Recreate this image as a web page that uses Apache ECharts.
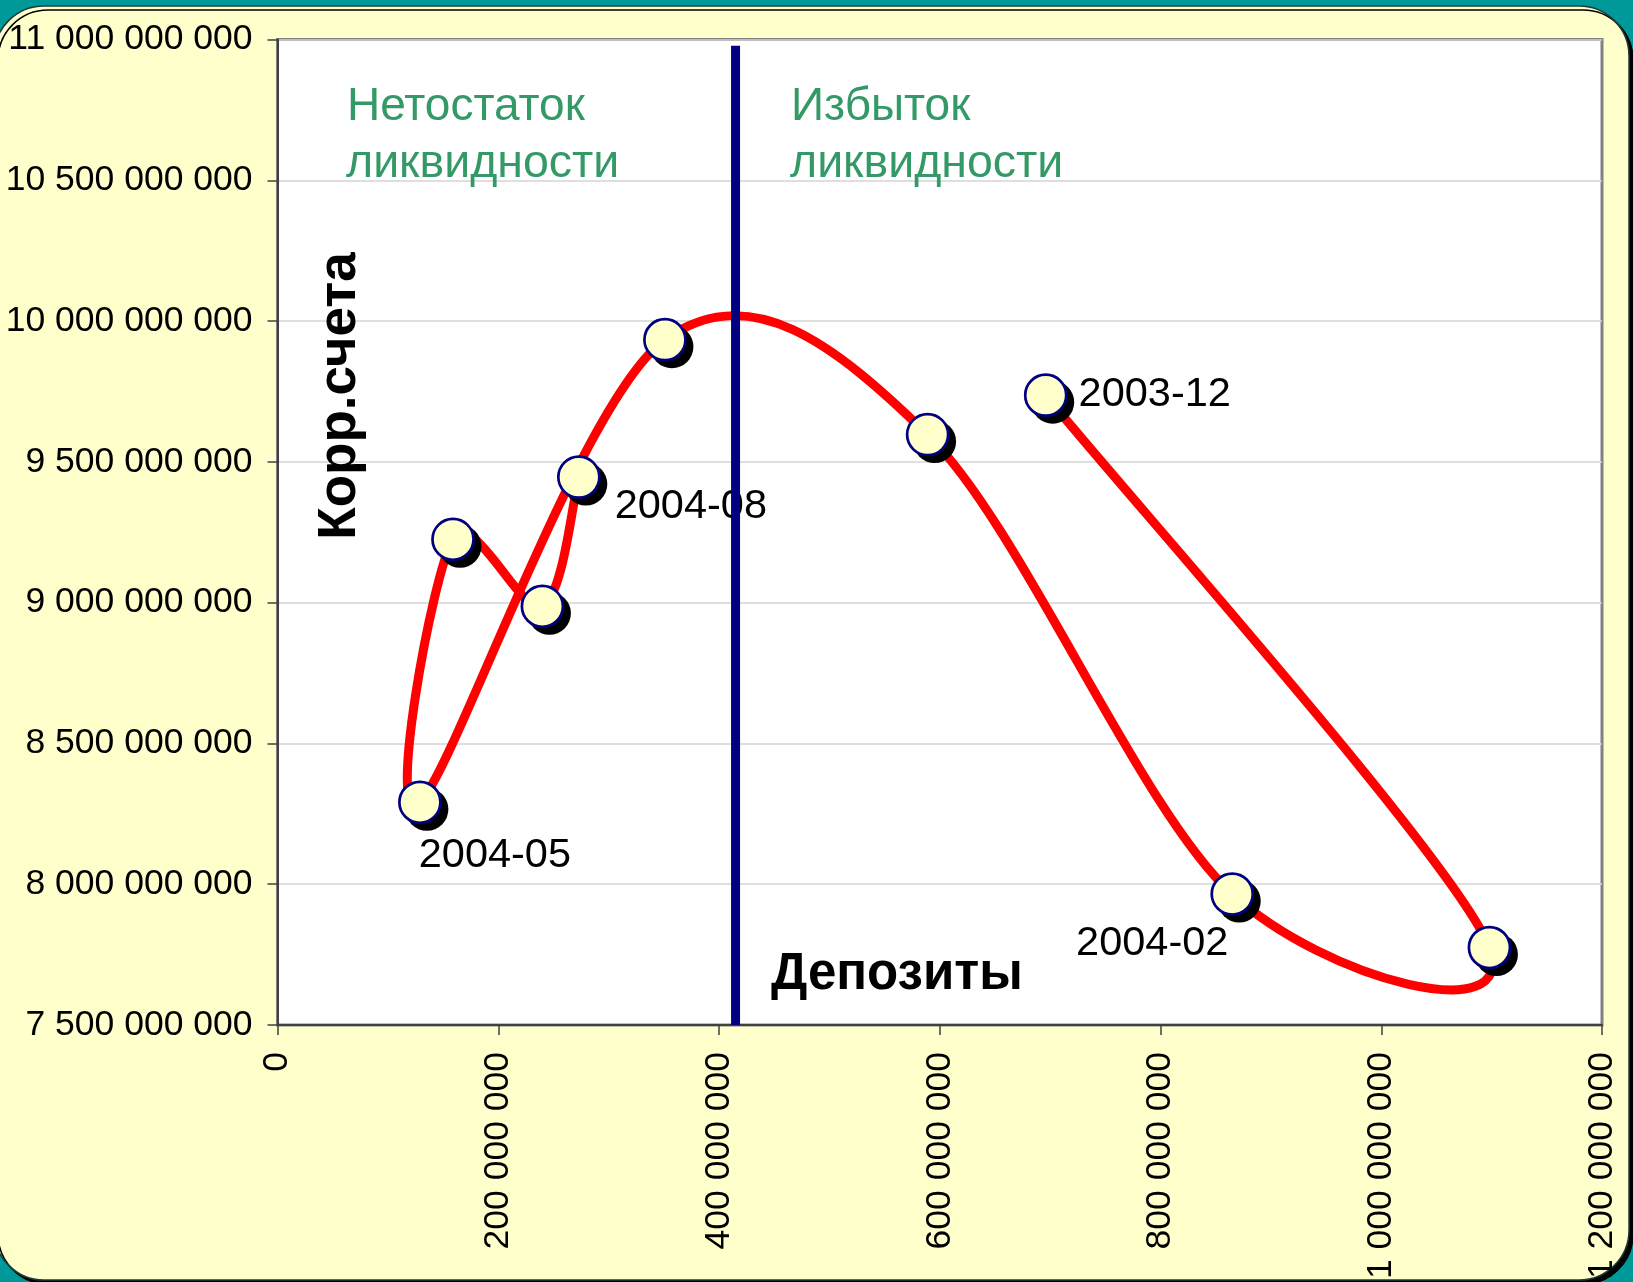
<!DOCTYPE html>
<html>
<head>
<meta charset="utf-8">
<script src="https://cdn.jsdelivr.net/npm/echarts@6/dist/echarts.min.js"></script>
<style>
html,body{margin:0;padding:0;background:#009999;overflow:hidden}
#c{width:1633px;height:1282px}
</style>
</head>
<body>
<div id="c"></div>
<script>
// ---- data ----
const months = ['2003-12','2004-01','2004-02','2004-03','2004-04','2004-05','2004-06','2004-07','2004-08'];
const deposits = [696e6, 1098e6, 865e6, 589e6, 351e6, 129e6, 159e6, 240e6, 273e6];
const corrAccounts = [9.737e9, 7.775e9, 7.965e9, 9.597e9, 9.934e9, 8.291e9, 9.225e9, 8.987e9, 9.446e9];
const labeledMonths = ['2003-12','2004-02','2004-05','2004-08'];
const liquidityBoundary = 415e6;
const boundaryTop = 10.978e9;
const xTickValues = [0, 200e6, 400e6, 600e6, 800e6, 1000e6, 1200e6];
const xTickLabels = ['0','200 000 000','400 000 000','600 000 000','800 000 000','1 000 000 000','1 200 000 000'];
const yTickValues = [7.5e9, 8e9, 8.5e9, 9e9, 9.5e9, 10e9, 10.5e9, 11e9];
const yTickLabels = ['7 500 000 000','8 000 000 000','8 500 000 000','9 000 000 000','9 500 000 000','10 000 000 000','10 500 000 000','11 000 000 000'];
const leftZoneText = ['Нетостаток', 'ликвидности'];
const rightZoneText = ['Избыток', 'ликвидности'];
const yTitle = 'Корр.счета';
const xTitle = 'Депозиты';

// ---- styling (not data) ----
const FONT = '"Liberation Sans", Arial, sans-serif';
const labelOffsets = {
  '2003-12': [109, -1],
  '2004-02': [-80, 50],
  '2004-05': [75, 53],
  '2004-08': [112, 29]
};

function tickLabel(values, labels) {
  return function (v) {
    for (let i = 0; i < values.length; i++) {
      if (Math.abs(values[i] - v) < 1) return labels[i];
    }
    return '';
  };
}

const seriesPoints = months.map(function (m, i) { return [deposits[i], corrAccounts[i]]; });

const markerData = months.map(function (m, i) {
  const item = { value: seriesPoints[i], name: m };
  if (labeledMonths.indexOf(m) >= 0) {
    item.label = {
      show: true,
      position: 'inside',
      offset: labelOffsets[m],
      formatter: m,
      color: '#000',
      fontSize: 41.5,
      fontFamily: FONT,
      textBorderWidth: 0
    };
  }
  return item;
});

// Smoothed connecting line (Excel-style Catmull-Rom Bezier) drawn through axis coordinates
function renderSmoothSegment(params, api) {
  const i = params.dataIndex;
  const n = seriesPoints.length;
  if (i >= n - 1) return null;
  function P(k) {
    const j = Math.max(0, Math.min(n - 1, k));
    return api.coord(seriesPoints[j]);
  }
  const p0 = P(i - 1), p1 = P(i), p2 = P(i + 1), p3 = P(i + 2);
  const t = 1 / 6;
  return {
    type: 'bezierCurve',
    silent: true,
    shape: {
      x1: p1[0], y1: p1[1], x2: p2[0], y2: p2[1],
      cpx1: p1[0] + (p2[0] - p0[0]) * t, cpy1: p1[1] + (p2[1] - p0[1]) * t,
      cpx2: p2[0] - (p3[0] - p1[0]) * t, cpy2: p2[1] - (p3[1] - p1[1]) * t
    },
    style: { stroke: '#FF0000', lineWidth: 9, fill: 'none', lineCap: 'round', lineJoin: 'round' }
  };
}

const chart = echarts.init(document.getElementById('c'), null, { renderer: 'canvas' });
chart.setOption({
  backgroundColor: '#009999',
  animation: false,
  graphic: [
    {
      type: 'rect', z: -10, silent: true,
      shape: { x: -6, y: 6, width: 1635, height: 1274, r: 50 },
      style: { fill: '#FFFFCC', stroke: '#1d3b3b', lineWidth: 1.5,
               shadowColor: '#000', shadowOffsetX: 4, shadowOffsetY: 4, shadowBlur: 0 }
    },
    { type: 'text', z: 50, silent: true, style: { text: leftZoneText[0], x: 347, y: 107, fill: '#339966', font: '46px ' + FONT, textVerticalAlign: 'middle' } },
    { type: 'text', z: 50, silent: true, style: { text: leftZoneText[1], x: 346, y: 164, fill: '#339966', font: '46.5px ' + FONT, textVerticalAlign: 'middle' } },
    { type: 'text', z: 50, silent: true, style: { text: rightZoneText[0], x: 791, y: 107, fill: '#339966', font: '46px ' + FONT, textVerticalAlign: 'middle' } },
    { type: 'text', z: 50, silent: true, style: { text: rightZoneText[1], x: 790, y: 164, fill: '#339966', font: '46.5px ' + FONT, textVerticalAlign: 'middle' } },
    { type: 'text', z: 50, silent: true, x: 340, y: 396, rotation: Math.PI / 2,
      style: { text: yTitle, x: 0, y: 0, fill: '#000', font: 'bold 53px ' + FONT, textAlign: 'center', textVerticalAlign: 'middle' } },
    { type: 'text', z: 50, silent: true, style: { text: xTitle, x: 771, y: 975, fill: '#000', font: 'bold 51px ' + FONT, textVerticalAlign: 'middle' } }
  ],
  grid: {
    left: 277.5, right: 31, top: 39.6, bottom: 256,
    show: true, backgroundColor: '#FFFFFF', borderColor: '#808080', borderWidth: 3
  },
  xAxis: {
    type: 'value', min: 0, max: 1200e6, interval: 200e6,
    axisLine: { show: true, onZero: false, lineStyle: { color: '#404040', width: 2 } },
    axisTick: { show: true, length: 10, lineStyle: { color: '#404040', width: 1.5 } },
    axisLabel: { rotate: 90, margin: 27, fontSize: 35.5, color: '#000', fontFamily: FONT,
                 formatter: tickLabel(xTickValues, xTickLabels) },
    splitLine: { show: false }
  },
  yAxis: {
    type: 'value', min: 7.5e9, max: 11e9, interval: 5e8,
    axisLine: { show: true, lineStyle: { color: '#404040', width: 2 } },
    axisTick: { show: true, length: 10, lineStyle: { color: '#404040', width: 1.5 } },
    axisLabel: { margin: 25, fontSize: 35.5, color: '#000', fontFamily: FONT,
                 formatter: tickLabel(yTickValues, yTickLabels) },
    splitLine: { show: true, lineStyle: { color: '#d4d4d4', width: 1.5 } }
  },
  series: [
    {
      type: 'custom', z: 3, silent: true,
      data: seriesPoints,
      encode: { x: 0, y: 1 },
      renderItem: renderSmoothSegment
    },
    {
      // marker shadows
      type: 'scatter', z: 4, silent: true,
      data: seriesPoints,
      symbol: 'circle', symbolSize: 43, symbolOffset: [7, 7],
      itemStyle: { color: '#000000', opacity: 1 },
      emphasis: { disabled: true }
    },
    {
      type: 'scatter', z: 5,
      data: markerData,
      symbol: 'circle', symbolSize: 41,
      itemStyle: { color: '#FFFFCC', borderColor: '#000080', borderWidth: 2.7, opacity: 1 },
      emphasis: { disabled: true }
    },
    {
      type: 'line', z: 7, silent: true,
      data: [[liquidityBoundary, boundaryTop], [liquidityBoundary, 7.5e9]],
      symbol: 'none',
      lineStyle: { color: '#000080', width: 9 },
      emphasis: { disabled: true }
    }
  ]
});
</script>
</body>
</html>
